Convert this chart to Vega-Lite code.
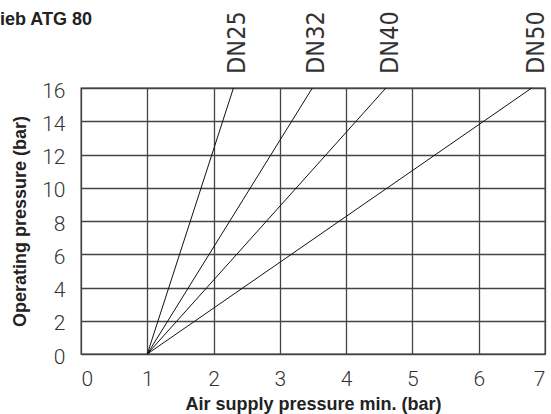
{
  "$schema": "https://vega.github.io/schema/vega-lite/v6.json",
  "width": 464,
  "height": 266,
  "autosize": {"type": "none"},
  "padding": {"left": 81, "top": 88, "right": 6, "bottom": 60},
  "background": "white",
  "title": {
    "text": "Antrieb ATG 80",
    "anchor": "start",
    "frame": "group",
    "align": "right",
    "dx": 11,
    "offset": -18,
    "font": "Liberation Sans",
    "fontSize": 18,
    "fontWeight": "bold",
    "color": "#222222"
  },
  "config": {
    "view": {"stroke": "#333333", "strokeWidth": 1.3},
    "axis": {
      "grid": true,
      "gridColor": "#444444",
      "gridWidth": 1.3,
      "gridOpacity": 1,
      "domain": false,
      "ticks": false,
      "labelFont": "Roboto",
      "labelFontWeight": 300,
      "labelFontSize": 21,
      "labelColor": "#333333",
      "titleFont": "Liberation Sans",
      "titleFontSize": 18,
      "titleFontWeight": "bold",
      "titleColor": "#222222"
    }
  },
  "data": {
    "values": [
      {"series": "DN25", "x": 1, "y": 0},
      {"series": "DN25", "x": 2.3, "y": 16},
      {"series": "DN32", "x": 1, "y": 0},
      {"series": "DN32", "x": 3.49, "y": 16},
      {"series": "DN40", "x": 1, "y": 0},
      {"series": "DN40", "x": 4.6, "y": 16},
      {"series": "DN50", "x": 1, "y": 0},
      {"series": "DN50", "x": 6.8, "y": 16}
    ]
  },
  "encoding": {
    "x": {
      "field": "x",
      "type": "quantitative",
      "scale": {"domain": [0, 7], "nice": false},
      "axis": {"values": [0, 1, 2, 3, 4, 5, 6, 7], "title": "Air supply pressure min. (bar)", "labelPadding": 14, "titlePadding": 6}
    },
    "y": {
      "field": "y",
      "type": "quantitative",
      "scale": {"domain": [0, 16], "nice": false},
      "axis": {"values": [0, 2, 4, 6, 8, 10, 12, 14, 16], "title": "Operating pressure (bar)", "labelPadding": 16, "labelOffset": 3, "titlePadding": 12}
    }
  },
  "layer": [
    {
      "mark": {"type": "line", "color": "#111111", "strokeWidth": 1},
      "encoding": {"detail": {"field": "series"}}
    },
    {
      "transform": [{"filter": "datum.y == 16"}],
      "mark": {
        "type": "text",
        "angle": 270,
        "align": "left",
        "baseline": "middle",
        "dx": 14,
        "dy": 4,
        "font": "DejaVu Sans Condensed",
        "fontSize": 25,
        "color": "#333333"
      },
      "encoding": {"text": {"field": "series"}}
    }
  ]
}
